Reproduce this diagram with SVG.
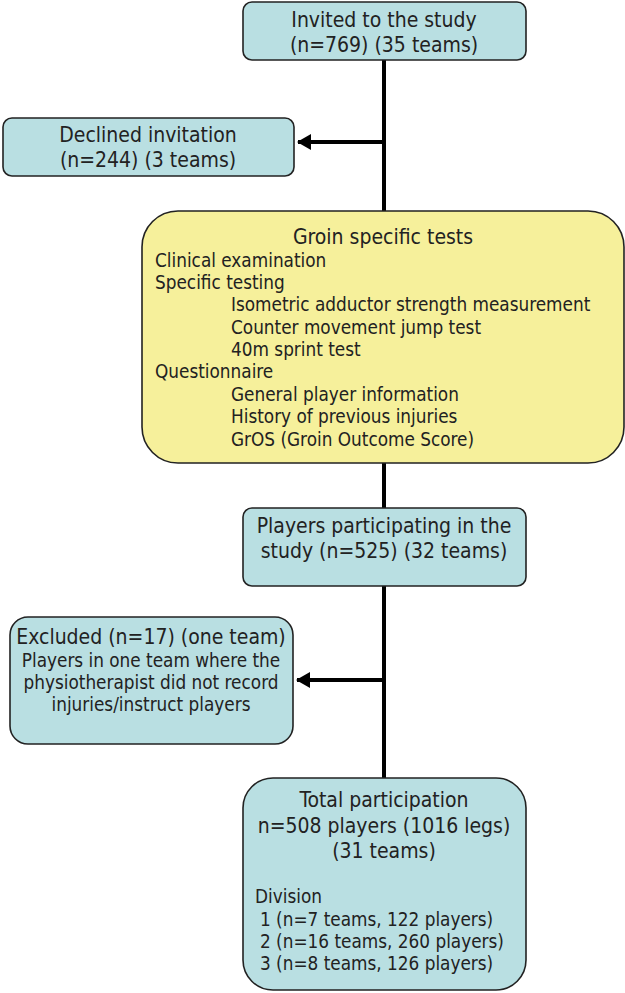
<svg xmlns="http://www.w3.org/2000/svg" width="625" height="993" viewBox="0 0 625 993">
<style>
.box{fill:#b9dfe2;stroke:#222;stroke-width:1.6}
.yel{fill:#f6f09b;stroke:#222;stroke-width:1.6}
text{font-family:"DejaVu Sans Condensed","DejaVu Sans",sans-serif;font-stretch:condensed;fill:#222;font-size:21px}
.c{text-anchor:middle}
.s{font-size:18.8px}
.ln{stroke:#000;stroke-width:4;fill:none}
</style>
<defs>
<marker id="ah" markerUnits="userSpaceOnUse" markerWidth="14" markerHeight="18" refX="13" refY="9" orient="auto">
<path d="M0,1 L14,9 L0,17 Z" fill="#000"/>
</marker>
</defs>
<rect width="625" height="993" fill="#fff"/>
<g id="connectors">
<line class="ln" x1="384" y1="60" x2="384" y2="212"/>
<line class="ln" x1="384" y1="463" x2="384" y2="509"/>
<line class="ln" x1="384" y1="586" x2="384" y2="779"/>
<line class="ln" x1="384" y1="142" x2="298" y2="142" marker-end="url(#ah)"/>
<line class="ln" x1="384" y1="680" x2="297" y2="680" marker-end="url(#ah)"/>
</g>
<g id="invited">
<rect class="box" x="243" y="2" width="283" height="58" rx="9"/>
<text class="c" x="384" y="26.5">Invited to the study</text>
<text class="c" x="384" y="51.5">(n=769) (35 teams)</text>
</g>
<g id="declined">
<rect class="box" x="3" y="118" width="291" height="58" rx="9"/>
<text class="c" x="148" y="141.5">Declined invitation</text>
<text class="c" x="148" y="166.5">(n=244) (3 teams)</text>
</g>
<g id="tests">
<rect class="yel" x="142" y="211" width="482" height="252" rx="36"/>
<text class="c" x="383" y="244">Groin specific tests</text>
<text class="s" x="155" y="267">Clinical examination</text>
<text class="s" x="155" y="289">Specific testing</text>
<text class="s" x="231" y="311">Isometric adductor strength measurement</text>
<text class="s" x="231" y="334">Counter movement jump test</text>
<text class="s" x="231" y="356">40m sprint test</text>
<text class="s" x="155" y="378">Questionnaire</text>
<text class="s" x="231" y="401">General player information</text>
<text class="s" x="231" y="423">History of previous injuries</text>
<text class="s" x="231" y="446">GrOS (Groin Outcome Score)</text>
</g>
<g id="participating">
<rect class="box" x="243" y="508" width="283" height="78" rx="9"/>
<text class="c" x="384" y="532.5">Players participating in the</text>
<text class="c" x="384" y="557.5">study (n=525) (32 teams)</text>
</g>
<g id="excluded">
<rect class="box" x="10" y="617" width="283" height="127" rx="18"/>
<text class="c" x="151" y="643.5">Excluded (n=17) (one team)</text>
<text class="c s" x="151" y="667">Players in one team where the</text>
<text class="c s" x="151" y="689">physiotherapist did not record</text>
<text class="c s" x="151" y="711">injuries/instruct players</text>
</g>
<g id="total">
<rect class="box" x="243" y="778" width="283" height="212" rx="30"/>
<text class="c" x="384" y="806.5">Total participation</text>
<text class="c" x="384" y="833">n=508 players (1016 legs)</text>
<text class="c" x="384" y="858">(31 teams)</text>
<text class="s" x="255" y="903">Division</text>
<text class="s" x="260" y="926">1 (n=7 teams, 122 players)</text>
<text class="s" x="260" y="948">2 (n=16 teams, 260 players)</text>
<text class="s" x="260" y="970">3 (n=8 teams, 126 players)</text>
</g>
</svg>
